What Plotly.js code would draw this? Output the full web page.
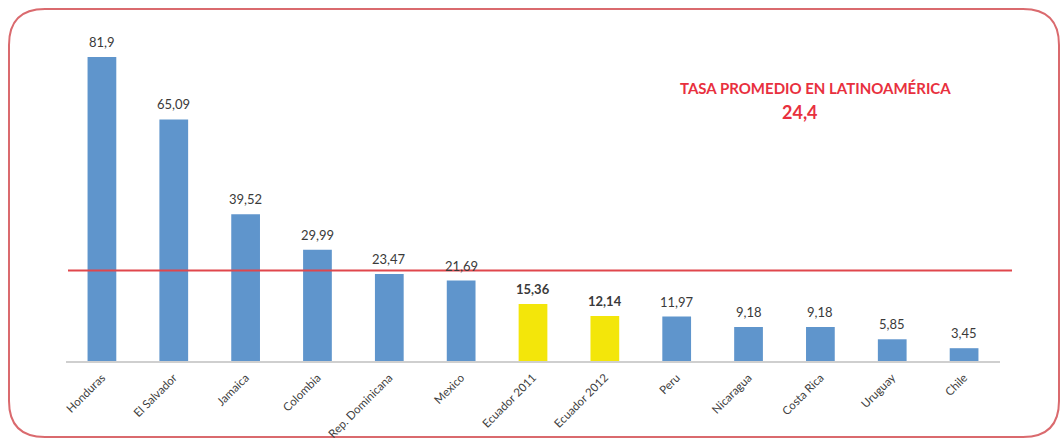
<!DOCTYPE html>
<html>
<head>
<meta charset="utf-8">
<script src="https://cdn.plot.ly/plotly-3.0.1.min.js"></script>
<style>
  html, body { margin: 0; padding: 0; background: #ffffff; }
  #chart { width: 1062px; height: 439px; }
</style>
</head>
<body>
<div id="chart"></div>
<script>
// ---- data ----
const categories = ["Honduras", "El Salvador", "Jamaica", "Colombia", "Rep. Dominicana", "Mexico",
  "Ecuador 2011", "Ecuador 2012", "Peru", "Nicaragua", "Costa Rica", "Uruguay", "Chile"];
const values = [81.9, 65.09, 39.52, 29.99, 23.47, 21.69, 15.36, 12.14, 11.97, 9.18, 9.18, 5.85, 3.45];
const valueLabels = ["81,9", "65,09", "39,52", "29,99", "23,47", "21,69", "15,36", "12,14", "11,97", "9,18", "9,18", "5,85", "3,45"];
const highlighted = [false, false, false, false, false, false, true, true, false, false, false, false, false];
const averageRate = 24.4;
const averageLabel = "24,4";
const averageTitle = "TASA PROMEDIO EN LATINOAMÉRICA";

// ---- styling ----
const BLUE = "#5f95cc";
const YELLOW = "#f3e60a";
const FONT = "Lato, 'Open Sans', sans-serif";

const M = {l: 66, r: 62, t: 27, b: 78};
const W = 1062, H = 439;
const pw = W - M.l - M.r, ph = H - M.t - M.b;
const px = x => (x - M.l) / pw;
const py = y => (H - M.b - y) / ph;

// rounded frame path in paper coords
function framePath(x0, y0, x1, y1, r) {
  const P = (x, y) => px(x).toFixed(5) + "," + py(y).toFixed(5);
  return "M" + P(x0 + r, y0) + " L" + P(x1 - r, y0) + " Q" + P(x1, y0) + " " + P(x1, y0 + r) +
    " L" + P(x1, y1 - r) + " Q" + P(x1, y1) + " " + P(x1 - r, y1) +
    " L" + P(x0 + r, y1) + " Q" + P(x0, y1) + " " + P(x0, y1 - r) +
    " L" + P(x0, y0 + r) + " Q" + P(x0, y0) + " " + P(x0 + r, y0) + " Z";
}

const trace = {
  type: "bar",
  x: categories,
  y: values,
  marker: { color: highlighted.map(h => h ? YELLOW : BLUE), line: {width: 0} },
  hoverinfo: "x+y"
};

const labelAnnotations = categories.map((c, i) => ({
  x: c, y: values[i], xref: "x", yref: "y",
  text: highlighted[i] ? "<b>" + valueLabels[i] + "</b>" : valueLabels[i],
  showarrow: false, xanchor: "center", yanchor: "bottom", yshift: 5,
  font: {family: FONT, size: 13, color: "#3a3a3a"}
}));

const layout = {
  width: W, height: H,
  margin: M,
  paper_bgcolor: "#ffffff",
  plot_bgcolor: "#ffffff",
  bargap: 0.6,
  showlegend: false,
  font: {family: FONT, color: "#404040"},
  xaxis: {
    type: "category",
    tickangle: -45,
    tickfont: {family: FONT, size: 11.5, color: "#404040"},
    showgrid: false,
    showline: true, linecolor: "#cfcfcf", linewidth: 1.5,
    ticks: "outside", ticklen: 4, tickcolor: "rgba(0,0,0,0)",
    zeroline: false
  },
  yaxis: {
    range: [0, 90],
    visible: false,
    showgrid: false, zeroline: false
  },
  shapes: [
    { type: "line", xref: "paper", yref: "y", x0: px(68), x1: px(1012), y0: averageRate, y1: averageRate,
      line: {color: "#e0474c", width: 2}, layer: "above" },
    { type: "path", xref: "paper", yref: "paper", path: framePath(9, 9, 1059, 437, 36),
      line: {color: "#da6a6e", width: 2}, fillcolor: "rgba(0,0,0,0)", layer: "below" }
  ],
  annotations: labelAnnotations.concat([
    { xref: "paper", yref: "paper", x: px(815), y: py(88), xanchor: "center", yanchor: "middle",
      text: "<b>" + averageTitle + "</b>",
      showarrow: false, font: {family: FONT, size: 15, color: "#e8303e"} },
    { xref: "paper", yref: "paper", x: px(800), y: py(112), xanchor: "center", yanchor: "middle",
      text: "<b>" + averageLabel + "</b>",
      showarrow: false, font: {family: FONT, size: 18, color: "#e8303e"} }
  ])
};

Plotly.newPlot("chart", [trace], layout, {displayModeBar: false, staticPlot: true});
</script>
</body>
</html>
